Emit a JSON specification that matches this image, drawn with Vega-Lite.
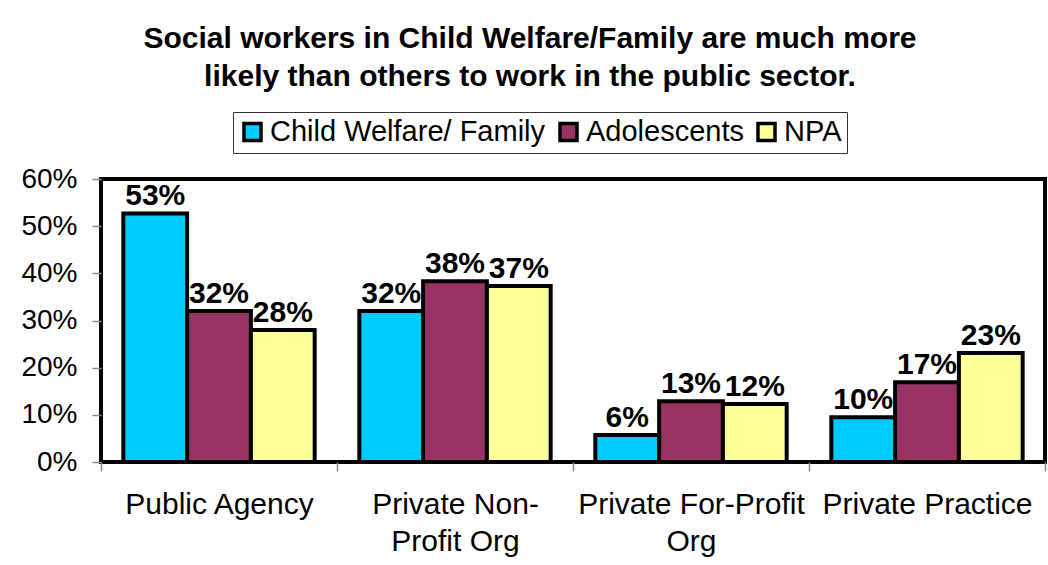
{
  "$schema": "https://vega.github.io/schema/vega-lite/v6.json",
  "width": 944,
  "height": 283,
  "autosize": {"type": "none"},
  "padding": {"left": 101, "top": 179, "right": 3, "bottom": 103},
  "background": "white",
  "title": {
    "text": ["Social workers in Child Welfare/Family are much more", "likely than others to work in the public sector."],
    "font": "Liberation Sans",
    "fontSize": 30,
    "fontWeight": "bold",
    "color": "black",
    "anchor": "middle",
    "dx": -43,
    "offset": 20,
    "lineHeight": 38
  },
  "data": {
    "values": [
      {"sector": "Public Agency", "group": "Child Welfare/ Family", "value": 0.527, "label": "53%"},
      {"sector": "Public Agency", "group": "Adolescents", "value": 0.32, "label": "32%"},
      {"sector": "Public Agency", "group": "NPA", "value": 0.28, "label": "28%"},
      {"sector": "Private Non-Profit Org", "group": "Child Welfare/ Family", "value": 0.32, "label": "32%"},
      {"sector": "Private Non-Profit Org", "group": "Adolescents", "value": 0.383, "label": "38%"},
      {"sector": "Private Non-Profit Org", "group": "NPA", "value": 0.373, "label": "37%"},
      {"sector": "Private For-Profit Org", "group": "Child Welfare/ Family", "value": 0.057, "label": "6%"},
      {"sector": "Private For-Profit Org", "group": "Adolescents", "value": 0.129, "label": "13%"},
      {"sector": "Private For-Profit Org", "group": "NPA", "value": 0.123, "label": "12%"},
      {"sector": "Private Practice", "group": "Child Welfare/ Family", "value": 0.095, "label": "10%"},
      {"sector": "Private Practice", "group": "Adolescents", "value": 0.169, "label": "17%"},
      {"sector": "Private Practice", "group": "NPA", "value": 0.231, "label": "23%"}
    ]
  },
  "encoding": {
    "x": {
      "field": "sector",
      "type": "nominal",
      "sort": ["Public Agency", "Private Non-Profit Org", "Private For-Profit Org", "Private Practice"],
      "scale": {"paddingInner": 0, "paddingOuter": 0},
      "axis": {
        "title": null,
        "labelAngle": 0,
        "labelFont": "Liberation Sans",
        "labelFontSize": 30,
        "labelColor": "black",
        "labelPadding": 18,
        "labelLineHeight": 37,
        "labelBaseline": "top",
        "labelLimit": 300,
        "tickBand": "extent",
        "tickColor": "#888888",
        "tickSize": 9,
        "tickWidth": 1.5,
        "domain": false,
        "labelExpr": "datum.label == 'Private Non-Profit Org' ? ['Private Non-', 'Profit Org'] : datum.label == 'Private For-Profit Org' ? ['Private For-Profit', 'Org'] : datum.label"
      }
    },
    "xOffset": {
      "field": "group",
      "type": "nominal",
      "sort": ["Child Welfare/ Family", "Adolescents", "NPA"],
      "scale": {"paddingInner": 0, "paddingOuter": 0.35}
    },
    "y": {
      "field": "value",
      "type": "quantitative",
      "scale": {"domain": [0, 0.6], "nice": false},
      "axis": {
        "title": null,
        "values": [0, 0.1, 0.2, 0.3, 0.4, 0.5, 0.6],
        "format": ".0%",
        "grid": false,
        "domain": false,
        "labelFont": "Liberation Sans",
        "labelFontSize": 28,
        "labelColor": "black",
        "labelPadding": 15,
        "tickColor": "#888888",
        "tickSize": 9,
        "tickWidth": 1.5
      }
    }
  },
  "layer": [
    {
      "mark": {"type": "bar", "stroke": "black", "strokeWidth": 4},
      "encoding": {
        "color": {
          "field": "group",
          "type": "nominal",
          "sort": ["Child Welfare/ Family", "Adolescents", "NPA"],
          "scale": {"domain": ["Child Welfare/ Family", "Adolescents", "NPA"], "range": ["#00CCFF", "#993366", "#FFFF99"]},
          "legend": {
            "title": null,
            "orient": "none",
            "legendX": 132,
            "legendY": -67,
            "direction": "horizontal",
            "symbolType": "square",
            "symbolSize": 290,
            "symbolStrokeColor": "black",
            "symbolStrokeWidth": 3.5,
            "symbolOpacity": 1,
            "labelFont": "Liberation Sans",
            "labelFontSize": 29,
            "labelColor": "black",
            "labelOffset": 3,
            "columnPadding": 6,
            "strokeColor": "#333333",
            "padding": 5,
            "labelLimit": 400
          }
        }
      }
    },
    {
      "mark": {"type": "text", "baseline": "bottom", "dy": -2, "font": "Liberation Sans", "fontSize": 30, "fontWeight": "bold", "color": "black"},
      "encoding": {"text": {"field": "label"}}
    }
  ],
  "config": {
    "view": {"stroke": "black", "strokeWidth": 4}
  }
}
